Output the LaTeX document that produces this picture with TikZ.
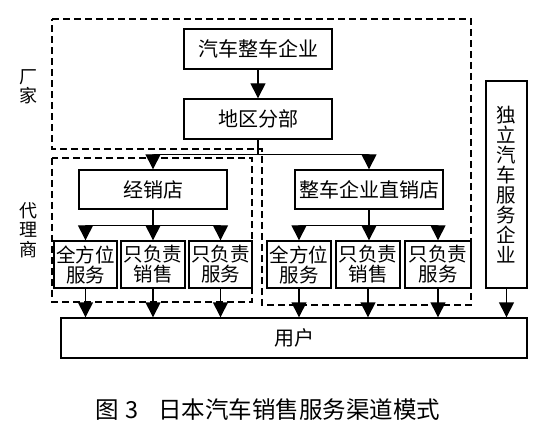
\documentclass[tikz,border=0pt]{standalone}
\usepackage{fontspec}
\newfontfamily\cjk{Noto Sans CJK SC}
\usetikzlibrary{arrows.meta, positioning}

\begin{document}
\begin{tikzpicture}[x=1pt, y=-1pt,
        bx/.style  = {draw, line width=1.4pt, minimum width=148pt, minimum height=40pt, inner sep=0pt, font=\cjk\fontsize{20}{20}\selectfont},
        sm/.style  = {draw, line width=1.4pt, minimum width=64pt, minimum height=47pt, inner sep=0pt, align=center, font=\cjk\fontsize{19.5}{20}\selectfont},
        ar/.style  = {-{Triangle[length=15pt, width=15pt]}, line width=1.4pt},
        grp/.style = {line width=1.4pt, dash pattern=on 7pt off 4pt},
        lbl/.style = {align=center, inner sep=0pt, font=\cjk\fontsize{18}{19.5}\selectfont}
    ]
        \useasboundingbox (0,0) rectangle (545,427);

        % groups
        \draw[grp] (52,19) -- (471,19) -- (471,305) -- (262,305) -- (262,149) -- (52,149) -- cycle;
        \draw[grp] (52,158) rectangle (252,302);

        \node[bx] (maker)  at (258,49)    {汽车整车企业};
        \node[bx] (branch) at (258,119)   {地区分部};
        \node[bx, minimum height=39pt] (dealer) at (153,189.5) {经销店};
        \node[bx, minimum height=39pt] (direct) at (369,189.5) {整车企业直销店};

        \node[sm, minimum width=63pt] (a1) at (85.5,264.5)  {全方位\\服务};
        \node[sm]                     (a2) at (153,264.5)   {只负责\\销售};
        \node[sm, minimum width=63pt] (a3) at (220.5,264.5) {只负责\\服务};
        \node[sm]                     (b1) at (299,264.5)   {全方位\\服务};
        \node[sm]                     (b2) at (368,264.5)   {只负责\\销售};
        \node[sm, minimum width=66pt] (b3) at (438,264.5)   {只负责\\服务};

        \node[sm, minimum width=41pt, minimum height=207pt] (indep) at (506.5,184.5)
            {独\\立\\汽\\车\\服\\务\\企\\业};
        \node[bx, minimum width=466pt] (user) at (294,338) {用户};

        \draw[ar] (maker) -- (branch);
        \draw[ar] (branch.south) -- ++(0,15) -| (dealer.north);
        \draw[ar] (branch.south) -- ++(0,15) -| (direct.north);
        \draw[ar] (dealer.south) -- ++(0,16) -| (a1.north);
        \draw[ar] (dealer) -- (a2);
        \draw[ar] (dealer.south) -- ++(0,16) -| (a3.north);
        \draw[ar] (direct.south) -- ++(0,16) -| (b1.north);
        \draw[ar] (direct.south) -- (b2.north -| direct.south);
        \draw[ar] (direct.south) -- ++(0,16) -| (b3.north);

        \foreach \n in {a1,a2,a3,b1,b2,b3,indep}
            \draw[ar] (\n.south) -- (\n.south |- user.north);

        \node[lbl] (maker lbl) at (28,87)  {厂\\家};
        \node[lbl] (agent lbl) at (28,230) {代\\理\\商};

        \node[lbl, font=\cjk\fontsize{23.5}{24}\selectfont] (cap) at (268,410)
            {图\hspace{6pt}3\hspace{20pt}日本汽车销售服务渠道模式};
    \end{tikzpicture}
\end{document}
